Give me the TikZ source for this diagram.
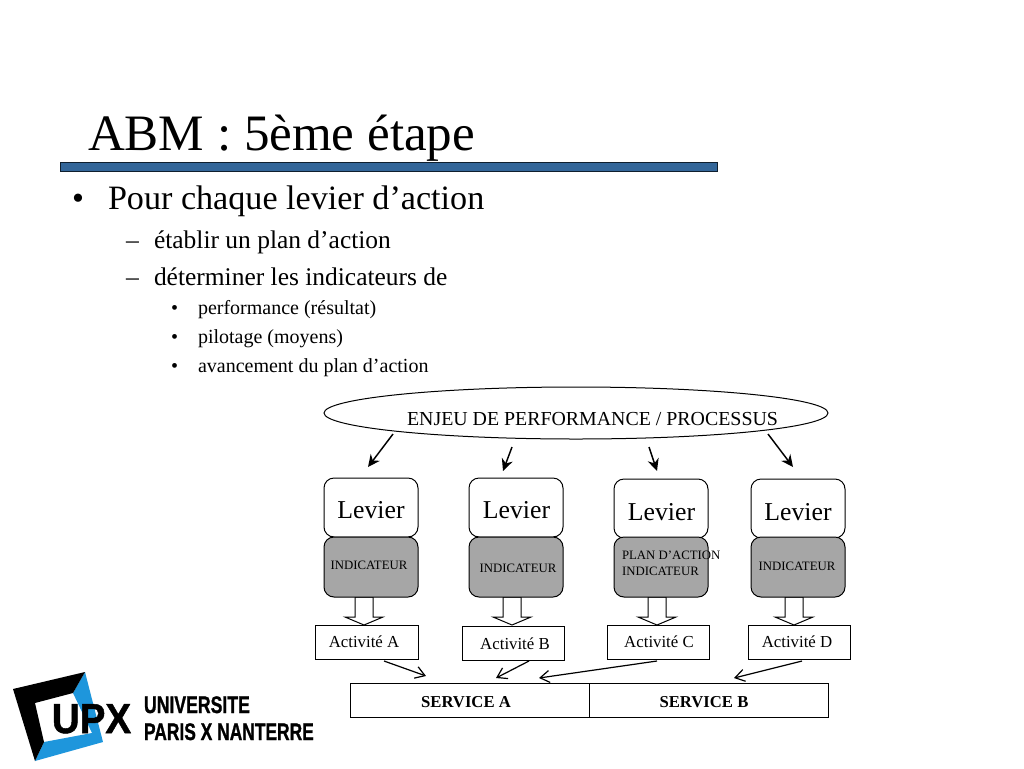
\documentclass[tikz,border=0pt]{standalone}
\usepackage{fontspec}
\setmainfont{Liberation Serif}
\newfontfamily\logofont{Liberation Sans}[BoldFeatures={FakeBold=1.2}]
\usetikzlibrary{shapes.geometric,arrows.meta}
\definecolor{barblue}{HTML}{336699}
\definecolor{indgray}{HTML}{A6A6A6}
\definecolor{logoblue}{HTML}{1E96DC}
\newcommand{\fs}[1]{\fontsize{#1}{#1}\selectfont}
\tikzset{
  x=0.75pt,y=-0.75pt,
  line/.style={draw=black,line width=0.75pt},
  levierbox/.style={line,rounded corners=7.5pt,fill=white},
  indbox/.style={line,rounded corners=7.5pt,fill=indgray},
  plainbox/.style={line,fill=white},
  hollow/.style={line,fill=white,line join=miter},
  solidarrow/.style={draw=black,line width=1.1pt,-{Stealth[length=9pt,width=8.5pt]}},
  openarrow/.style={draw=black,line width=0.9pt,-{Straight Barb[length=7pt,width=9pt]}},
  txt/.style={anchor=base west,inner sep=0pt,outer sep=0pt,text=black},
  ctxt/.style={anchor=base,inner sep=0pt,outer sep=0pt,text=black},
}
\begin{document}
\begin{tikzpicture}
\useasboundingbox[fill=white] (0,0) rectangle (1024,768);
% title
\fill[barblue,draw=black!70!barblue,line width=0.6pt] (60,162) rectangle (717,171);
\node[txt] (title) at (88,150) {\fs{38.3}ABM : 5ème étape};
% bullets
\node[txt] (b1) at (72,209) {\fs{25.6}•};
\node[txt] (t1) at (108,209) {\fs{25.6}Pour chaque levier d’action};
\node[txt] (b2) at (126,248) {\fs{19.2}–};
\node[txt] (t2) at (154,248) {\fs{19.1}établir un plan d’action};
\node[txt] (b3) at (126,285) {\fs{19.2}–};
\node[txt] (t3) at (154,285) {\fs{19.1}déterminer les indicateurs de};
\node[txt] (b4) at (171,314) {\fs{15}•};
\node[txt] (t4) at (198,314) {\fs{15}performance (résultat)};
\node[txt] (b5) at (171,343) {\fs{15}•};
\node[txt] (t5) at (198,343) {\fs{15}pilotage (moyens)};
\node[txt] (b6) at (171,372) {\fs{15}•};
\node[txt] (t6) at (198,372) {\fs{15}avancement du plan d’action};
% ellipse
\node[ellipse,line,fill=white,minimum width=378pt,minimum height=39pt,inner sep=0pt] (enjeu) at (576,413) {};
\node[ctxt] (enjeutxt) at (592.5,425) {\fs{14.9}ENJEU DE PERFORMANCE / PROCESSUS};
% hollow arrows (under the boxes)
\foreach \n/\c in {a/364,b/512,c/657,d/794}{
  \draw[hollow] (\c-9,597) -- (\c-9,617) -- (\c-19,617) -- (\c,625) -- (\c+19,617) -- (\c+9,617) -- (\c+9,597) -- cycle;
}
% leviers
\draw[levierbox] (324,478) rectangle (418,537) node[midway] (lev1) {};
\draw[levierbox] (469,478) rectangle (563,537) node[midway] (lev2) {};
\draw[levierbox] (614,479) rectangle (708,538) node[midway] (lev3) {};
\draw[levierbox] (751,479) rectangle (845,538) node[midway] (lev4) {};
\node[ctxt] (lt1) at (371,518) {\fs{19.3}Levier};
\node[ctxt] (lt2) at (516.5,518) {\fs{19.3}Levier};
\node[ctxt] (lt3) at (661.5,520) {\fs{19.3}Levier};
\node[ctxt] (lt4) at (798,520) {\fs{19.3}Levier};
% indicateurs
\draw[indbox] (324,537) rectangle (418,597) node[midway] (ind1) {};
\draw[indbox] (469,537) rectangle (563,597) node[midway] (ind2) {};
\draw[indbox] (614,537) rectangle (708,597) node[midway] (ind3) {};
\draw[indbox] (751,537) rectangle (845,597) node[midway] (ind4) {};
\node[ctxt] (it1) at (369,569) {\fs{9.6}INDICATEUR};
\node[ctxt] (it2) at (518,572) {\fs{9.6}INDICATEUR};
\node[txt] (it3a) at (622,559) {\fs{9.6}PLAN D’ACTION};
\node[txt] (it3b) at (622,575) {\fs{9.6}INDICATEUR};
\node[ctxt] (it4) at (797,570) {\fs{9.6}INDICATEUR};
% activities
\node[plainbox,minimum width=77.25pt,minimum height=25pt,inner sep=0pt] (act1) at (366.5,642.5) {};
\node[plainbox,minimum width=76.5pt,minimum height=25.5pt,inner sep=0pt] (act2) at (513,643) {};
\node[plainbox,minimum width=76.5pt,minimum height=25pt,inner sep=0pt] (act3) at (658,642.5) {};
\node[plainbox,minimum width=76.5pt,minimum height=25pt,inner sep=0pt] (act4) at (799,642.5) {};
\node[ctxt] (at1) at (364,647) {\fs{12.6}Activité A};
\node[ctxt] (at2) at (515,649) {\fs{12.6}Activité B};
\node[ctxt] (at3) at (659,647) {\fs{12.6}Activité C};
\node[ctxt] (at4) at (797,647) {\fs{12.6}Activité D};
% services
\node[plainbox,minimum width=179.25pt,minimum height=25.5pt,inner sep=0pt] (sa) at (469.5,700) {};
\node[plainbox,minimum width=179.25pt,minimum height=25.5pt,inner sep=0pt] (sb) at (708.5,700) {};
\node[ctxt] (st1) at (466,707) {\fs{12.5}\bfseries SERVICE A};
\node[ctxt] (st2) at (704,707) {\fs{12.5}\bfseries SERVICE B};
% connector ends
\coordinate (e1s) at (393,434); \coordinate (e1t) at (368,467);
\coordinate (e2s) at (512,447); \coordinate (e2t) at (503,471);
\coordinate (e3s) at (649,447); \coordinate (e3t) at (657,471);
\coordinate (e4s) at (768,434); \coordinate (e4t) at (793,467);
\draw[solidarrow] (e1s) -- (e1t);
\draw[solidarrow] (e2s) -- (e2t);
\draw[solidarrow] (e3s) -- (e3t);
\draw[solidarrow] (e4s) -- (e4t);
\coordinate (f1s) at (384,661); \coordinate (f1t) at (426,676);
\coordinate (f2s) at (529,661); \coordinate (f2t) at (496,678);
\coordinate (f3s) at (657,661); \coordinate (f3t) at (539,678);
\coordinate (f4s) at (802,661); \coordinate (f4t) at (734,678);
\draw[openarrow] (f1s) -- (f1t);
\draw[openarrow] (f2s) -- (f2t);
\draw[openarrow] (f3s) -- (f3t);
\draw[openarrow] (f4s) -- (f4t);
% logo
\fill[logoblue] (85,672) -- (103,742) -- (35,761) -- (44,742) -- (92,733) -- (73,693) -- cycle;
\fill[black] (13,689) -- (85,672) -- (73,693) -- (35,703) -- (44,742) -- (35,761) -- cycle;
\node[anchor=base,inner sep=0pt,text=black,xscale=0.92,transform shape] (upxt) at (91.5,733) {\logofont\bfseries\fs{31.4}UPX};
\node[txt,xscale=0.735,transform shape] (lg1) at (144,713) {\logofont\bfseries\fs{18}UNIVERSITE};
\node[txt,xscale=0.725,transform shape] (lg2) at (144,740) {\logofont\bfseries\fs{18}PARIS X NANTERRE};
\end{tikzpicture}
\end{document}
